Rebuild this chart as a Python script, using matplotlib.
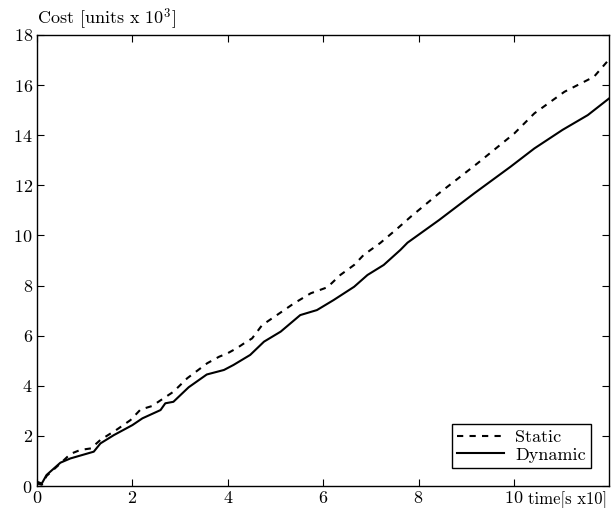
import matplotlib
matplotlib.use("Agg")
import matplotlib.pyplot as plt

plt.rcParams['font.family'] = 'serif'
plt.rcParams['font.serif'] = ['cmr10', 'DejaVu Serif']
plt.rcParams['mathtext.fontset'] = 'cm'
plt.rcParams['axes.formatter.use_mathtext'] = True

# values (time in s x10, cost in units x 10^3)
static_t = [0, 0.10, 0.20, 0.49, 0.70, 0.91, 1.13, 1.33, 1.68, 1.96, 2.17, 2.41, 2.86,
            3.15, 3.43, 3.57, 3.82, 3.99, 4.19, 4.34, 4.51, 4.72, 5.03, 5.39, 5.74,
            6.09, 6.36, 6.65, 6.85, 7.20, 7.56, 7.84, 8.43, 9.24, 10.01, 10.43, 11.06,
            11.68, 12.0]
static_cost = [0.1, 0.05, 0.4, 0.9, 1.28, 1.44, 1.5, 1.84, 2.26, 2.63, 3.05, 3.19, 3.76,
               4.3, 4.7, 4.9, 5.16, 5.29, 5.5, 5.69, 5.89, 6.42, 6.82, 7.29, 7.69,
               7.93, 8.42, 8.82, 9.22, 9.7, 10.28, 10.75, 11.68, 12.88, 14.07, 14.87, 15.73,
               16.33, 17.03]

dynamic_t = [0, 0.10, 0.20, 0.49, 0.70, 1.19, 1.33, 1.61, 2.00, 2.21, 2.59, 2.69, 2.86,
             3.18, 3.56, 3.92, 4.12, 4.47, 4.76, 5.11, 5.52, 5.87, 6.22, 6.65, 6.93,
             7.27, 7.62, 7.77, 8.43, 9.17, 9.93, 10.43, 11.02, 11.55, 12.0]
dynamic_cost = [0.17, 0.1, 0.44, 0.93, 1.1, 1.37, 1.7, 2.03, 2.43, 2.7, 3.03, 3.3, 3.36,
                3.94, 4.45, 4.63, 4.83, 5.23, 5.76, 6.16, 6.82, 7.02, 7.42, 7.95, 8.42,
                8.82, 9.42, 9.71, 10.61, 11.68, 12.74, 13.47, 14.21, 14.8, 15.47]

xticks = [0, 2, 4, 6, 8, 10]
yticks = [0, 2, 4, 6, 8, 10, 12, 14, 16, 18]

fig = plt.figure(figsize=(6.12, 5.08), dpi=100)
ax = fig.add_axes([0.0605, 0.0433, 0.935, 0.888])

ax.plot(static_t, static_cost, 'k--', lw=1.5, dashes=(3, 3), label='Static')
ax.plot(dynamic_t, dynamic_cost, 'k-', lw=1.5, label='Dynamic')

ax.set_xlim(0, 12)
ax.set_ylim(0, 18)
ax.set_xticks(xticks)
ax.set_yticks(yticks)
ax.tick_params(direction='in', top=True, right=True, labelsize=13, length=5, width=0.8, pad=3)
for s in ax.spines.values():
    s.set_linewidth(1.0)

ax.text(0, 1.006, 'Cost [units x 10$^3$]', transform=ax.transAxes,
        ha='left', va='bottom', fontsize=13)
ax.annotate('time[s x10]', xy=(1, 0), xycoords='axes fraction',
            xytext=(-1.5, -3.5), textcoords='offset points',
            ha='right', va='top', fontsize=12)

leg = ax.legend(loc='lower right', fontsize=13, fancybox=False, framealpha=1,
                edgecolor='black', borderaxespad=1.0, handlelength=2.6,
                borderpad=0.3, labelspacing=0.1, handletextpad=0.6)
leg.get_frame().set_linewidth(1.0)

fig.savefig('out.png', dpi=100)
